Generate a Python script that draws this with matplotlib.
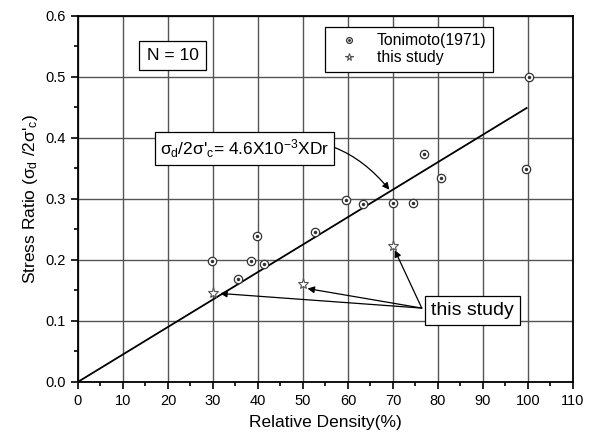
import matplotlib
matplotlib.use("Agg")
import matplotlib.pyplot as plt
import numpy as np
from matplotlib.legend_handler import HandlerTuple

plt.rcParams['font.family'] = ['Liberation Sans', 'DejaVu Sans']
plt.rcParams['mathtext.fontset'] = 'custom'
plt.rcParams['mathtext.rm'] = 'Liberation Sans'
plt.rcParams['mathtext.it'] = 'Liberation Sans'
plt.rcParams['mathtext.bf'] = 'Liberation Sans:bold'

# Tonimoto (1971) data
toni_dr = [29.7, 35.6, 38.4, 39.8, 41.3, 52.6, 59.6, 63.3, 69.9, 74.4, 76.9, 80.7, 99.6, 100.3]
toni_sr = [0.198, 0.169, 0.199, 0.239, 0.193, 0.246, 0.299, 0.291, 0.294, 0.294, 0.373, 0.335, 0.349, 0.499]

# this study
study_dr = [30.1, 49.9, 70.1]
study_sr = [0.146, 0.161, 0.222]

# fitted line
fit_dr = [0, 99.7]
fit_sr = [0, 0.449]

fig = plt.figure(figsize=(5.95, 4.41), dpi=100)
ax = fig.add_axes([0.131, 0.134, 0.832, 0.830])

ax.grid(True, which='major', color='#555555', linewidth=1.0)
ax.set_axisbelow(True)

ax.plot(fit_dr, fit_sr, color='black', linewidth=1.3, zorder=3)

c1, = ax.plot(toni_dr, toni_sr, linestyle='none', marker='o', markersize=6,
              markerfacecolor='white', markeredgecolor='#333333', markeredgewidth=0.9, zorder=4)
c2, = ax.plot(toni_dr, toni_sr, linestyle='none', marker='o', markersize=1.5,
              color='#333333', zorder=5)
s1, = ax.plot(study_dr, study_sr, linestyle='none', marker='*', markersize=8,
              markerfacecolor='white', markeredgecolor='#555555', markeredgewidth=0.8, zorder=4)

ax.set_xlim(0, 110)
ax.set_ylim(0, 0.6)
ax.set_xticks(np.arange(0, 111, 10))
ax.set_xticks(np.arange(0, 111, 5), minor=True)
ax.set_yticks(np.arange(0, 0.61, 0.1))
ax.set_yticks(np.arange(0, 0.61, 0.05), minor=True)
ax.yaxis.set_major_formatter(matplotlib.ticker.FormatStrFormatter('%.1f'))
ax.tick_params(which='both', direction='out', top=False, right=False, labelsize=10.5)
ax.tick_params(which='major', length=5, width=1.2)
ax.tick_params(which='minor', length=3, width=1.2)
for sp in ax.spines.values():
    sp.set_linewidth(1.3)

ax.set_xlabel('Relative Density(%)', fontsize=12.5, labelpad=5)
ax.set_ylabel(r"Stress Ratio ($\sigma_d$ /2$\sigma$'$_c$)", fontsize=12.5, labelpad=4)

leg = ax.legend([(c1, c2), s1], ['Tonimoto(1971)', 'this study'],
                handler_map={tuple: HandlerTuple(ndivide=1, pad=0)},
                loc='upper left', bbox_to_anchor=(0.499, 0.970), borderaxespad=0,
                fontsize=11.3, frameon=True, fancybox=False, edgecolor='black',
                framealpha=1, handlelength=2.3, handletextpad=0.6, borderpad=0.4,
                labelspacing=0.15, markerscale=0.7)
leg.get_frame().set_linewidth(0.9)

box = dict(boxstyle='square,pad=0.3', facecolor='white', edgecolor='black', linewidth=0.9)
box_n = dict(boxstyle='square,pad=0.42', facecolor='white', edgecolor='black', linewidth=0.9)

ax.text(21, 0.535, 'N = 10', fontsize=12.5, ha='center', va='center', bbox=box_n, zorder=6)

ax.annotate(r"$\sigma_d$/2$\sigma$'$_c$= 4.6X10$^{-3}$XDr", xy=(69.2, 0.315), xytext=(37.0, 0.382),
            fontsize=12.5, ha='center', va='center', bbox=box, zorder=6,
            arrowprops=dict(arrowstyle='-|>', color='black', lw=0.9, mutation_scale=10,
                            connectionstyle='arc3,rad=-0.35', shrinkA=0, shrinkB=0))

arrow_kw = dict(arrowstyle='-|>', color='black', lw=0.9, mutation_scale=10, shrinkA=0, shrinkB=0)
targets = [(31.6, 0.145), (51.0, 0.153), (70.4, 0.216)]
for tx, ty in targets:
    ax.annotate('', xy=(tx, ty), xytext=(76.4, 0.121), arrowprops=arrow_kw, zorder=6)
ax.text(87.7, 0.117, 'this study', fontsize=14, ha='center', va='center', bbox=box, zorder=7)

fig.savefig('out.png', dpi=100)
